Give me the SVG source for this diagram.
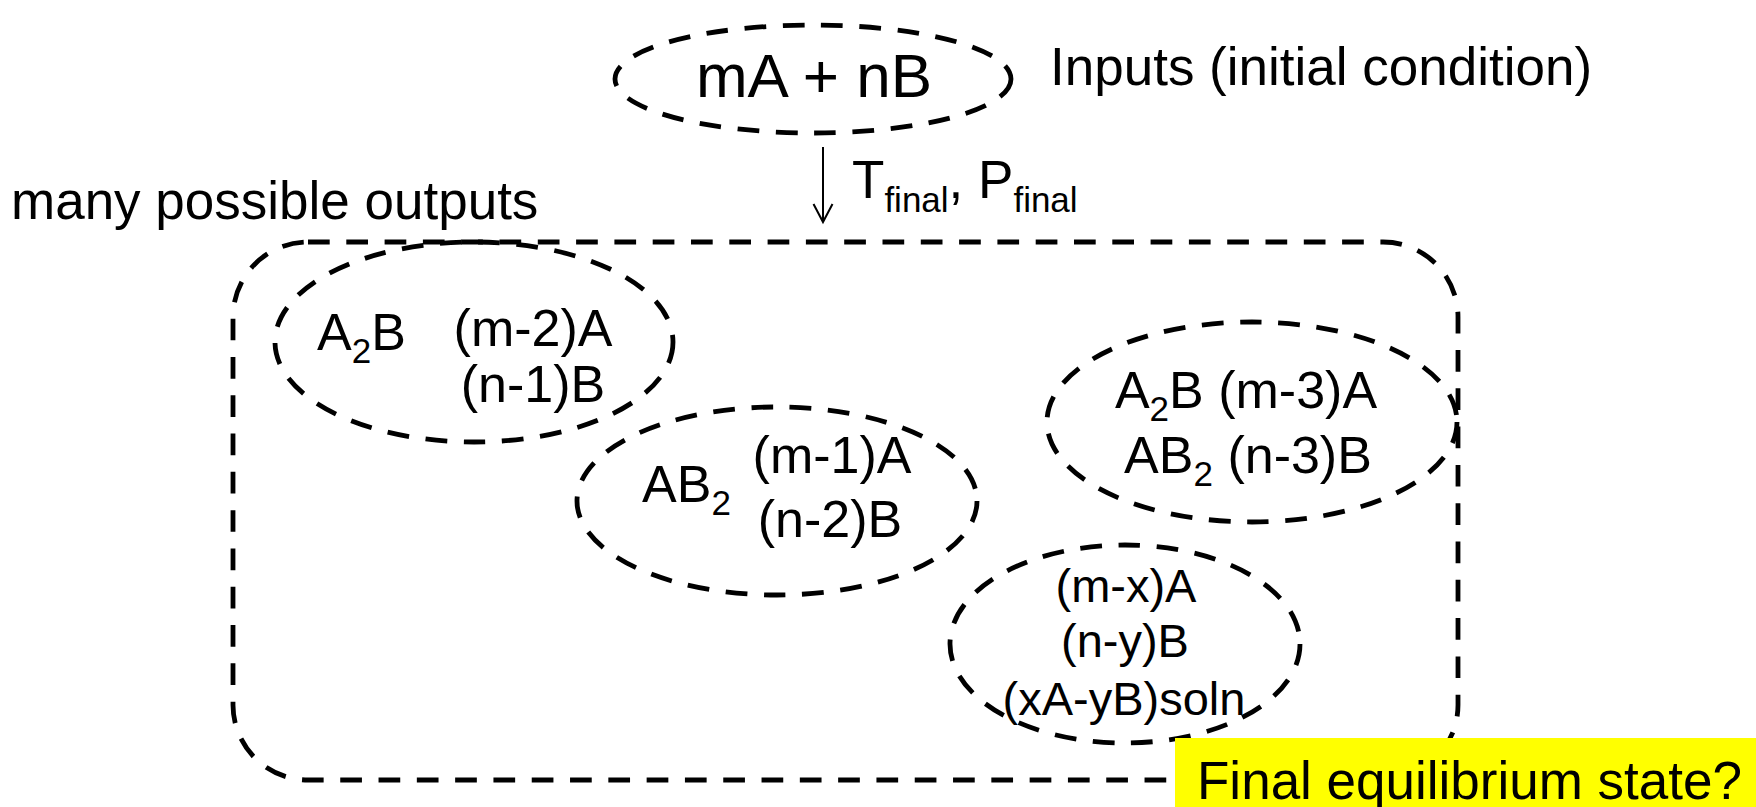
<svg xmlns="http://www.w3.org/2000/svg" width="1756" height="807" viewBox="0 0 1756 807">
<style>
.dash{fill:none;stroke:#000;stroke-width:4.8;stroke-dasharray:21.7 16.6}
.t{font-family:"Liberation Sans",Arial,sans-serif;fill:#000}
.big{font-size:53px}
.med{font-size:52px}
.sm{font-size:47px}
.sub{font-size:35px}
</style>
<rect width="1756" height="807" fill="#fff"/>
<g id="outputs-box">
<rect class="dash" x="233" y="242" width="1225" height="538" rx="75" ry="75"/>
</g>
<g id="inputs">
<ellipse class="dash" cx="813" cy="79" rx="198" ry="54"/>
<text class="t" x="814" y="97" font-size="62" text-anchor="middle">mA + nB</text>
</g>
<g id="inputs-label">
<text class="t big" x="1050" y="85">Inputs (initial condition)</text>
</g>
<g id="outputs-label">
<text class="t big" x="11" y="219">many possible outputs</text>
</g>
<g id="connectors">
<line x1="823" y1="147" x2="823" y2="221" stroke="#000" stroke-width="2"/>
<polyline points="813.5,204 823,222 832.5,204" fill="none" stroke="#000" stroke-width="2"/>
<text class="t big" x="852" y="198">T<tspan class="sub" dy="14">final</tspan><tspan dy="-14">, P</tspan><tspan class="sub" dy="14">final</tspan></text>
</g>
<g id="state1">
<ellipse class="dash" cx="474" cy="342" rx="199" ry="100"/>
<text class="t med" x="317" y="350">A<tspan class="sub" dy="13">2</tspan><tspan dy="-13">B</tspan></text>
<text class="t med" x="533" y="346" text-anchor="middle">(m-2)A</text>
<text class="t med" x="533" y="402" text-anchor="middle">(n-1)B</text>
</g>
<g id="state2">
<ellipse class="dash" cx="777" cy="501" rx="200" ry="94"/>
<text class="t med" x="642" y="502">AB<tspan class="sub" dy="13">2</tspan></text>
<text class="t med" x="832" y="473" text-anchor="middle">(m-1)A</text>
<text class="t med" x="830" y="537" text-anchor="middle">(n-2)B</text>
</g>
<g id="state3">
<ellipse class="dash" cx="1252" cy="422" rx="205" ry="100"/>
<text class="t med" x="1246" y="408" text-anchor="middle">A<tspan class="sub" dy="13">2</tspan><tspan dy="-13">B (m-3)A</tspan></text>
<text class="t med" x="1248" y="473" text-anchor="middle">AB<tspan class="sub" dy="13">2</tspan><tspan dy="-13"> (n-3)B</tspan></text>
</g>
<g id="state4">
<ellipse class="dash" cx="1125" cy="644" rx="175" ry="99"/>
<text class="t sm" x="1126" y="602" text-anchor="middle">(m-x)A</text>
<text class="t sm" x="1125" y="657" text-anchor="middle">(n-y)B</text>
<text class="t sm" x="1124" y="715" text-anchor="middle">(xA-yB)soln</text>
</g>
<g id="final-state">
<rect x="1175" y="738" width="581" height="69" fill="#ffff00"/>
<text class="t big" x="1197" y="799">Final equilibrium state?</text>
</g>
</svg>
